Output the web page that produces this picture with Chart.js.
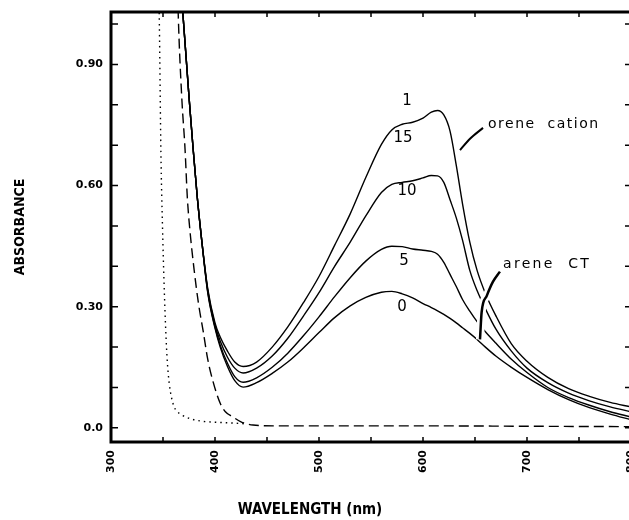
<!DOCTYPE html>
<html>
<head>
<meta charset="utf-8">
<script src="https://cdn.jsdelivr.net/npm/chart.js@4.4.0/dist/chart.umd.min.js"></script>
<style>
  html, body { margin: 0; padding: 0; background: #fff; overflow: hidden; }
  #wrap { width: 640px; height: 520px; }
</style>
</head>
<body>
<div id="wrap"><canvas id="absChart" width="640" height="520"></canvas></div>
<script>
// wavelength grid shared by the four spectra (nm)
const wavelengths = [366, 369, 375, 379, 383, 387, 393, 400, 405, 412, 419, 427, 440, 455, 470, 485, 500, 515, 530, 545,
  560, 570, 580, 590, 600, 608, 614, 620, 626, 632, 638, 645, 652, 660, 670, 685, 700, 720, 740, 760, 780, 800];

// absorbance of each spectrum, labelled 0, 5, 10, 15 on the plot
const curve15 = [1.15, 1.03, 0.82, 0.69, 0.57, 0.47, 0.345, 0.26, 0.225, 0.19, 0.163, 0.152, 0.163, 0.2, 0.25, 0.31, 0.375, 0.452, 0.53, 0.62,
  0.702, 0.738, 0.752, 0.757, 0.767, 0.782, 0.786, 0.775, 0.735, 0.65, 0.555, 0.46, 0.39, 0.333, 0.278, 0.208, 0.165, 0.125, 0.097, 0.078, 0.063, 0.052];
const curve10 = [1.15, 1.03, 0.82, 0.69, 0.57, 0.47, 0.342, 0.255, 0.215, 0.175, 0.148, 0.136, 0.148, 0.178, 0.222, 0.277, 0.335, 0.4, 0.46, 0.525,
  0.583, 0.603, 0.608, 0.612, 0.619, 0.625, 0.624, 0.608, 0.565, 0.52, 0.465, 0.39, 0.34, 0.295, 0.245, 0.19, 0.148, 0.112, 0.086, 0.067, 0.052, 0.04];
const curve5 = [1.15, 1.03, 0.82, 0.69, 0.57, 0.47, 0.338, 0.25, 0.205, 0.16, 0.127, 0.113, 0.124, 0.15, 0.185, 0.228, 0.275, 0.325, 0.372, 0.413,
  0.442, 0.45, 0.449, 0.443, 0.44, 0.437, 0.43, 0.41, 0.38, 0.35, 0.318, 0.289, 0.263, 0.238, 0.21, 0.17, 0.137, 0.1, 0.075, 0.056, 0.04, 0.027];
const curve0 = [1.15, 1.03, 0.82, 0.69, 0.57, 0.47, 0.335, 0.247, 0.2, 0.152, 0.117, 0.101, 0.112, 0.135, 0.163, 0.198, 0.236, 0.273, 0.302, 0.323,
  0.336, 0.338, 0.332, 0.322, 0.308, 0.298, 0.29, 0.281, 0.271, 0.26, 0.248, 0.234, 0.219, 0.2, 0.178, 0.15, 0.125, 0.095, 0.07, 0.05, 0.034, 0.02];

// dotted and dashed reference spectra
const dottedWl = [345.5, 346.5, 348, 349.5, 351, 352.5, 354, 356, 360, 364, 368, 376, 386, 400, 417, 430];
const dottedAbs = [1.15, 1.0, 0.68, 0.5, 0.36, 0.25, 0.17, 0.11, 0.057, 0.04, 0.032, 0.023, 0.017, 0.014, 0.012, 0.01];
const dashedWl = [363.5, 364.7, 368, 371.2, 373.4, 376, 380, 384, 388.8, 393, 398.4, 404.8, 410, 417.3, 425, 436.5, 460, 500, 600, 700, 800];
const dashedAbs = [1.15, 1.02, 0.82, 0.69, 0.57, 0.486, 0.39, 0.31, 0.237, 0.17, 0.112, 0.062, 0.04, 0.027, 0.015, 0.007, 0.005, 0.005, 0.005, 0.004, 0.003];

// leader lines for the two notes
const cationLeaderWl = [635.6, 645.2, 657.7];
const cationLeaderAbs = [0.688, 0.716, 0.743];
const ctLeaderWl = [654.8, 656.4, 661.3, 667.3, 674];
const ctLeaderAbs = [0.219, 0.287, 0.327, 0.362, 0.387];

// axis ticks
const xTickValues = [300, 350, 400, 450, 500, 550, 600, 650, 700, 750, 800];
const xTickLabels = ['300', '', '400', '', '500', '', '600', '', '700', '', '800'];
const yTickValues = [0, 0.1, 0.2, 0.3, 0.4, 0.5, 0.6, 0.7, 0.8, 0.9, 1.0];
const yTickLabels = ['0.0', '', '', '0.30', '', '', '0.60', '', '', '0.90', ''];

// text notes, placed in data units
const notes = [
  { text: '1', wl: 584.6, abs: 0.81, size: 15 },
  { text: '15', wl: 580.8, abs: 0.718, size: 15 },
  { text: '10', wl: 584.6, abs: 0.586, size: 15 },
  { text: '5', wl: 581.7, abs: 0.414, size: 15 },
  { text: '0', wl: 579.8, abs: 0.299, size: 15 },
  { text: 'orene  cation', wl: 662.5, abs: 0.751, size: 14, spacing: '1.5px' },
  { text: 'arene  CT', wl: 677, abs: 0.406, size: 14, spacing: '2.3px' }
];

const pts = (xs, ys) => xs.map((v, i) => ({ x: v, y: ys[i] }));

const line = (data, extra) => Object.assign({
  data: data,
  borderColor: '#000',
  borderWidth: 1.4,
  pointRadius: 0,
  fill: false,
  cubicInterpolationMode: 'monotone'
}, extra);

const framePlugin = {
  id: 'frame',
  afterDraw(chart) {
    const { ctx, chartArea: a, scales: { x, y } } = chart;
    ctx.save();
    ctx.strokeStyle = '#000';
    ctx.lineWidth = 3;
    ctx.strokeRect(a.left, a.top, a.right - a.left, a.bottom - a.top);

    // inward ticks on all four sides
    ctx.lineWidth = 1.5;
    ctx.beginPath();
    xTickValues.forEach(v => {
      const px = x.getPixelForValue(v);
      ctx.moveTo(px, a.bottom); ctx.lineTo(px, a.bottom - 5);
      ctx.moveTo(px, a.top); ctx.lineTo(px, a.top + 5);
    });
    yTickValues.forEach(v => {
      const py = y.getPixelForValue(v);
      ctx.moveTo(a.left, py); ctx.lineTo(a.left + 7, py);
      ctx.moveTo(a.right, py); ctx.lineTo(a.right - 6, py);
    });
    ctx.stroke();

    // notes on the curves
    ctx.fillStyle = '#000';
    ctx.textBaseline = 'middle';
    notes.forEach(n => {
      ctx.font = n.size + 'px "DejaVu Sans"';
      ctx.letterSpacing = n.spacing || '0px';
      ctx.textAlign = n.spacing ? 'left' : 'center';
      ctx.fillText(n.text, x.getPixelForValue(n.wl), y.getPixelForValue(n.abs));
    });

    // x axis title, set left of centre like the original
    ctx.letterSpacing = '0px';
    ctx.font = 'bold 15px "Liberation Sans Narrow", "DejaVu Sans Condensed", sans-serif';
    ctx.textAlign = 'center';
    ctx.fillText('WAVELENGTH (nm)', 310, 510);
    ctx.restore();
  }
};

const tickFont = { family: '"DejaVu Sans", sans-serif', size: 11, weight: 'bold' };

new Chart(document.getElementById('absChart').getContext('2d'), {
  type: 'line',
  data: {
    datasets: [
      line(pts(ctLeaderWl, ctLeaderAbs), { borderWidth: 2.5 }),
      line(pts(ctLeaderWl, ctLeaderAbs), { borderWidth: 8, borderColor: '#fff' }),
      line(pts(cationLeaderWl, cationLeaderAbs), { borderWidth: 2 }),
      line(pts(wavelengths, curve15)),
      line(pts(wavelengths, curve10)),
      line(pts(wavelengths, curve5)),
      line(pts(wavelengths, curve0)),
      line(pts(dashedWl, dashedAbs), { borderDash: [10, 5] }),
      line(pts(dottedWl, dottedAbs), { borderDash: [1.5, 4] })
    ]
  },
  options: {
    responsive: false,
    animation: false,
    events: [],
    layout: { padding: { top: 12, right: 9, left: 0, bottom: 0 } },
    plugins: {
      legend: { display: false },
      tooltip: { enabled: false }
    },
    scales: {
      x: {
        type: 'linear',
        min: 300,
        max: 800,
        afterFit: s => { s.height = 78; s.paddingLeft = 0; s.paddingRight = 0; },
        afterBuildTicks: s => { s.ticks = xTickValues.map(v => ({ value: v })); },
        grid: { display: false, drawTicks: false },
        border: { display: false },
        ticks: {
          autoSkip: false,
          minRotation: 90,
          maxRotation: 90,
          padding: 8,
          color: '#000',
          font: tickFont,
          callback: (v, i) => xTickLabels[i]
        }
      },
      y: {
        min: -0.035,
        max: 1.03,
        afterFit: s => { s.width = 111; s.paddingTop = 0; s.paddingBottom = 0; },
        afterBuildTicks: s => { s.ticks = yTickValues.map(v => ({ value: v })); },
        grid: { display: false, drawTicks: false },
        border: { display: false },
        ticks: {
          autoSkip: false,
          padding: 8,
          color: '#000',
          font: tickFont,
          callback: (v, i) => yTickLabels[i]
        },
        title: {
          display: true,
          text: 'ABSORBANCE',
          color: '#000',
          font: { family: '"Liberation Sans Narrow", "DejaVu Sans Condensed", sans-serif', size: 14, weight: 'bold' },
          padding: { top: 12, bottom: 0 }
        }
      }
    }
  },
  plugins: [framePlugin]
});
</script>
</body>
</html>
